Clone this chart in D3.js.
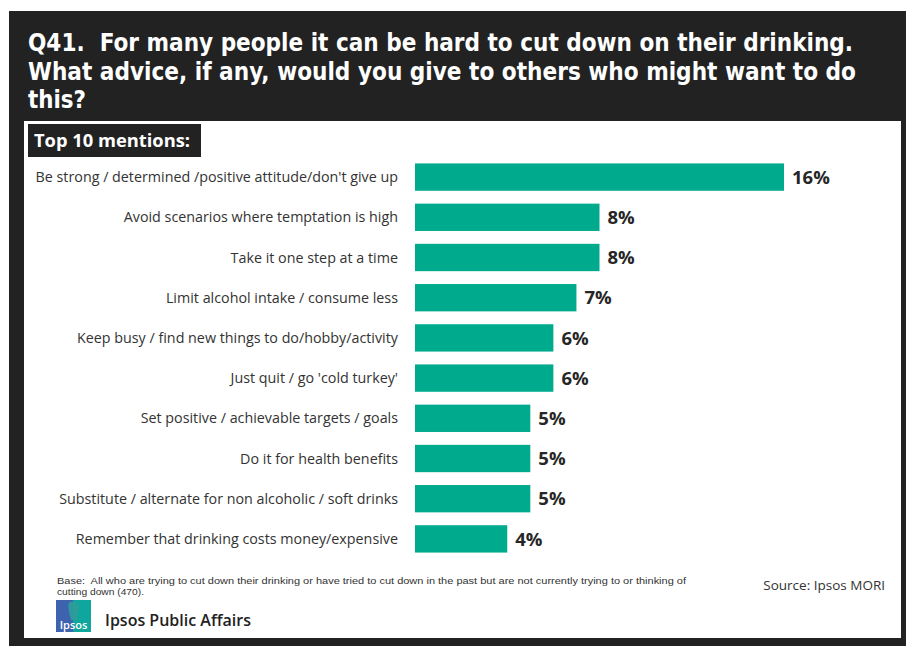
<!DOCTYPE html>
<html><head><meta charset="utf-8">
<script src="https://cdn.jsdelivr.net/npm/d3@7"></script>
<style>body{margin:0;background:#fff;}svg{display:block;}</style>
</head><body>
<script>
const categories = [
  "Be strong / determined /positive attitude/don't give up",
  "Avoid scenarios where temptation is high",
  "Take it one step at a time",
  "Limit alcohol intake / consume less",
  "Keep busy / find new things to do/hobby/activity",
  "Just quit / go 'cold turkey'",
  "Set positive / achievable targets / goals",
  "Do it for health benefits",
  "Substitute / alternate for non alcoholic / soft drinks",
  "Remember that drinking costs money/expensive"
];
const values = [16, 8, 8, 7, 6, 6, 5, 5, 5, 4];
const titleLines = [
  "Q41.  For many people it can be hard to cut down on their drinking.",
  "What advice, if any, would you give to others who might want to do",
  "this?"
];
const subtitle = "Top 10 mentions:";
const baseNote = [
  "Base:  All who are trying to cut down their drinking or have tried to cut down in the past but are not currently trying to or thinking of",
  "cutting down (470)."
];
const source = "Source: Ipsos MORI";
const brand = "Ipsos Public Affairs";

const W = 906, H = 646;
const svg = d3.select("body").append("svg").attr("width", W).attr("height", H);
const font = "'Open Sans', 'DejaVu Sans', sans-serif";
const condensed = "'DejaVu Sans Condensed', 'DejaVu Sans', sans-serif";

// frame
svg.append("rect").attr("x", 9).attr("y", 11).attr("width", W - 9).attr("height", H - 11).attr("fill", "#222222");
svg.append("rect").attr("x", 24).attr("y", 121).attr("width", 877).attr("height", 517).attr("fill", "#ffffff");

// title
const titleWidths = [825, 828, 58];
titleLines.forEach((t, i) => {
  svg.append("text").attr("x", 28).attr("y", 51 + i * 28.5)
    .attr("xml:space", "preserve").style("white-space", "pre")
    .attr("font-family", condensed).attr("font-weight", 700).attr("font-size", 24.4)
    .attr("fill", "#fff").attr("textLength", titleWidths[i]).attr("lengthAdjust", "spacingAndGlyphs")
    .text(t);
});

// subtitle box
svg.append("rect").attr("x", 28).attr("y", 124).attr("width", 173).attr("height", 33).attr("fill", "#222222");
svg.append("text").attr("x", 34).attr("y", 147).attr("font-family", font).attr("font-weight", 700)
  .attr("font-size", 18).attr("fill", "#fff").attr("textLength", 156).attr("lengthAdjust", "spacingAndGlyphs").text(subtitle);

// scales
const x = d3.scaleLinear().domain([0, 16]).range([415, 784]);
const y = d3.scaleBand().domain(categories).range([157, 559]).paddingInner(0.32).paddingOuter(0.16);

const g = svg.append("g");
g.selectAll("rect.bar").data(categories).join("rect").attr("class", "bar")
  .attr("x", x(0)).attr("y", d => y(d)).attr("height", y.bandwidth())
  .attr("width", (d, i) => x(values[i]) - x(0)).attr("fill", "#00AA8C");

g.selectAll("text.val").data(categories).join("text").attr("class", "val")
  .attr("x", (d, i) => x(values[i]) + 8).attr("y", d => y(d) + y.bandwidth() / 2)
  .attr("dy", "0.36em").attr("font-family", font).attr("font-weight", 700).attr("font-size", 18.5)
  .attr("fill", "#262626").text((d, i) => values[i] + "%");

// category labels via axis
const axis = d3.axisLeft(y).tickSize(0).tickPadding(0);
const ag = svg.append("g").attr("transform", "translate(398,0)").call(axis);
ag.select(".domain").remove();
ag.selectAll("text").attr("font-family", font).attr("font-size", 14.3).attr("fill", "#333")
  .attr("dy", "0.35em").attr("text-anchor", "end");

// footnote
baseNote.forEach((t, i) => {
  svg.append("text").attr("x", 57).attr("y", 584 + i * 10.5).attr("font-family", "'Liberation Sans', sans-serif")
    .attr("xml:space", "preserve").style("white-space", "pre")
    .attr("font-size", 9).attr("fill", "#333").text(t)
    .attr("textLength", i === 0 ? 629 : 87).attr("lengthAdjust", "spacingAndGlyphs");
});
svg.append("text").attr("x", 885).attr("y", 590).attr("text-anchor", "end").attr("font-family", font)
  .attr("font-size", 13.5).attr("fill", "#333").text(source);

// logo
const lg = svg.append("g").attr("transform", "translate(56,600)");
lg.append("rect").attr("width", 35).attr("height", 32).attr("fill", "#3D62AE");
lg.append("path").attr("d", "M17,0 L35,0 L35,32 L17,32 Z").attr("fill", "#0FA69D");
lg.append("path").attr("d", "M14,2 C20,0 24,4 23,9 C23,12 21,14 21,16 L22,20 L15,20 C15,17 13,15 13,11 C12,6 12,3 14,2 Z").attr("fill", "#2E9F9A").attr("opacity", 0.9);
lg.append("text").attr("x", 17.5).attr("y", 29).attr("text-anchor", "middle").attr("font-family", font)
  .attr("font-size", 11).attr("font-weight", 600).attr("fill", "#fff").text("Ipsos");
svg.append("text").attr("x", 105).attr("y", 626).attr("font-family", font).attr("font-size", 16)
  .attr("font-weight", 600).attr("fill", "#222").text(brand);
</script>
</body></html>
